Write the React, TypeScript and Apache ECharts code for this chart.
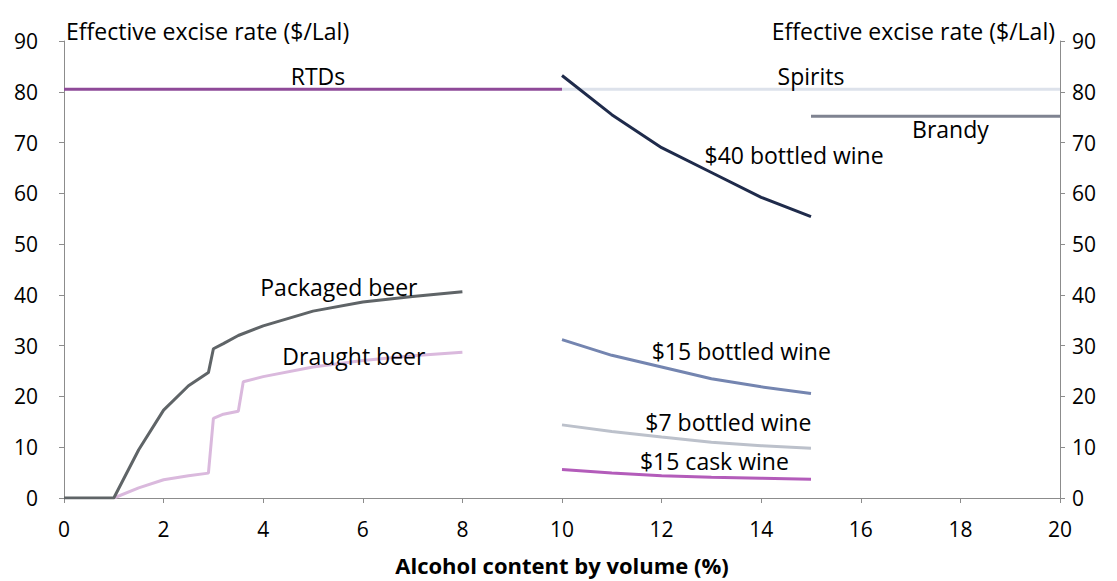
import React, { useEffect, useRef } from "react";
import * as echarts from "echarts";

const xTicks = { min: 0, max: 20, interval: 2 };
const yTicks = { min: 0, max: 90, interval: 10 };
const yAxisTitle = "Effective excise rate ($/Lal)";
const xAxisTitle = "Alcohol content by volume (%)";

const packagedBeerX = [0, 1, 1.5, 2, 2.5, 2.9, 3, 3.2, 3.5, 4, 5, 6, 7, 8];
const packagedBeerY = [0, 0, 9.5, 17.3, 22.1, 24.7, 29.4, 30.4, 32.0, 33.9, 36.8, 38.6, 39.7, 40.6];
const draughtBeerX = [1, 1.5, 2, 2.5, 2.9, 3, 3.2, 3.5, 3.6, 4, 5, 6, 7, 8];
const draughtBeerY = [0, 2.0, 3.6, 4.4, 4.9, 15.7, 16.5, 17.1, 22.9, 23.9, 25.8, 27.1, 28.0, 28.7];
const wineX = [10, 11, 12, 13, 14, 15];
const wine40Y = [83.2, 75.5, 69.0, 64.1, 59.2, 55.4];
const wine15Y = [31.2, 28.1, 25.8, 23.5, 21.9, 20.6];
const wine7Y = [14.4, 13.1, 12.0, 11.0, 10.3, 9.8];
const cask15Y = [5.6, 4.9, 4.4, 4.1, 3.9, 3.7];
const rtdX = [0, 10];
const rtdY = [80.5, 80.5];
const spiritsX = [10, 20];
const spiritsY = [80.5, 80.5];
const brandyX = [15, 20];
const brandyY = [75.2, 75.2];

// label anchors (data coordinates)
const labelTexts = ["RTDs", "Spirits", "Brandy", "$40 bottled wine", "Packaged beer", "Draught beer", "$15 bottled wine", "$7 bottled wine", "$15 cask wine"];
const labelX = [5.1, 15.0, 17.8, 14.66, 5.52, 5.82, 13.6, 13.34, 13.06];
const labelY = [83.1, 83.1, 72.6, 67.6, 41.6, 28.0, 28.9, 14.9, 7.3];

const FONT = "'Open Sans'";
const LABEL_SIZE = 23;
const TICK_SIZE = 21;

const zip = (xs: number[], ys: number[]) => xs.map((x, i) => [x, ys[i]]);

export default function App() {
  const ref = useRef<HTMLDivElement>(null);
  useEffect(() => {
    document.body.style.margin = "0";
    const chart = echarts.init(ref.current!, null, { renderer: "svg" });
    const axisLine = { show: true, lineStyle: { color: "#8c8c8c", width: 1 } };
    const line = (name: string, data: number[][], color: string, z = 2) => ({
      name,
      type: "line",
      data,
      showSymbol: false,
      symbol: "none",
      z,
      lineStyle: { color, width: 3 },
      itemStyle: { color },
    });
    const yAxisCommon = {
      type: "value",
      min: yTicks.min,
      max: yTicks.max,
      interval: yTicks.interval,
      axisLine,
      axisTick: { show: true, inside: false, length: 5, lineStyle: { color: "#8c8c8c" } },
      splitLine: { show: false },
      name: yAxisTitle,
      nameLocation: "end",
      nameGap: 10,
    };
    chart.setOption({
      animation: false,
      textStyle: { fontFamily: FONT },
      grid: { left: 64, right: 57, top: 41, bottom: 81, containLabel: false },
      xAxis: {
        type: "value",
        min: xTicks.min,
        max: xTicks.max,
        interval: xTicks.interval,
        axisLine,
        axisTick: { show: true, inside: false, length: 5, lineStyle: { color: "#8c8c8c" } },
        splitLine: { show: false },
        axisLabel: { color: "#000", fontSize: TICK_SIZE, margin: 20, fontFamily: FONT },
        name: xAxisTitle,
        nameLocation: "middle",
        nameGap: 56,
        nameTextStyle: { color: "#000", fontSize: 22, fontWeight: "bold", fontFamily: FONT },
      },
      yAxis: [
        {
          ...yAxisCommon,
          position: "left",
          axisLabel: { color: "#000", fontSize: TICK_SIZE, margin: 26, fontFamily: FONT },
          nameTextStyle: { color: "#000", fontSize: LABEL_SIZE, align: "left", verticalAlign: "middle", padding: [0, 0, 0, 2], fontFamily: FONT },
        },
        {
          ...yAxisCommon,
          position: "right",
          axisLabel: { color: "#000", fontSize: TICK_SIZE, margin: 12, fontFamily: FONT },
          nameTextStyle: { color: "#000", fontSize: LABEL_SIZE, align: "right", verticalAlign: "middle", padding: [0, 5, 0, 0], fontFamily: FONT },
        },
      ],
      series: [
        line("Spirits", zip(spiritsX, spiritsY), "#dde2eb", 1),
        line("RTDs", zip(rtdX, rtdY), "#8e4a98", 2),
        line("Brandy", zip(brandyX, brandyY), "#7f8391", 2),
        line("$40 bottled wine", zip(wineX, wine40Y), "#1f2b4b", 3),
        line("$15 bottled wine", zip(wineX, wine15Y), "#7485b0", 2),
        line("$7 bottled wine", zip(wineX, wine7Y), "#bcc1cb", 2),
        line("$15 cask wine", zip(wineX, cask15Y), "#b35cba", 2),
        line("Draught beer", zip(draughtBeerX, draughtBeerY), "#dab9dd", 2),
        line("Packaged beer", zip(packagedBeerX, packagedBeerY), "#5f6467", 3),
      ],
    });
    const graphics = labelTexts.map((t, i) => {
      const [px, py] = chart.convertToPixel({ xAxisIndex: 0, yAxisIndex: 0 }, [labelX[i], labelY[i]]) as number[];
      return {
        type: "text",
        x: px,
        y: py,
        z: 10,
        style: { text: t, fill: "#000", font: `${LABEL_SIZE}px ${FONT}`, align: "center", verticalAlign: "middle" },
      };
    });
    chart.setOption({ graphic: graphics });
    return () => chart.dispose();
  }, []);
  return <div ref={ref} style={{ width: 1117, height: 581 }} />;
}
